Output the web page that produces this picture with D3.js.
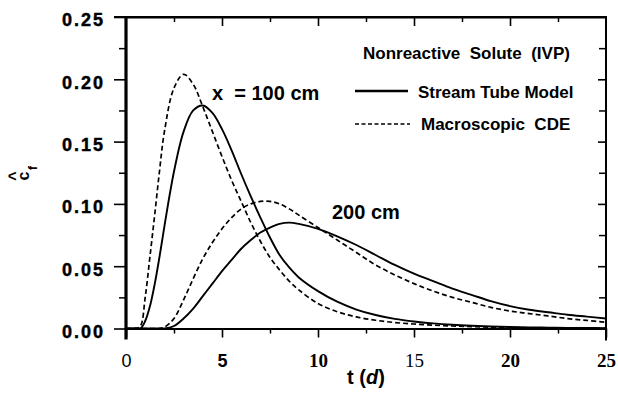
<!DOCTYPE html>
<html>
<head>
<meta charset="utf-8">
<script src="https://cdn.jsdelivr.net/npm/d3@7"></script>
<style>
  html, body { margin: 0; padding: 0; background: #fff; }
  svg { display: block; }
</style>
</head>
<body>
<svg id="chart" width="618" height="402"></svg>
<script>
// ---------------- data ----------------
const tDays = [0, 0.5, 0.75, 1, 1.25, 1.5, 1.75, 2, 2.5, 3, 3.5, 4, 4.5, 5, 5.5, 6, 6.5, 7, 7.5, 8, 8.5, 9,
  10, 11, 12, 13, 14, 15, 16, 17, 18, 19, 20, 21, 22, 23, 24, 25];

// Stream Tube Model, x = 100 cm
const stm100 = [0, 0, 0, 0.006, 0.018, 0.036, 0.058, 0.082, 0.126, 0.158, 0.175, 0.179, 0.173, 0.160, 0.143, 0.124, 0.106, 0.089, 0.073, 0.059, 0.049, 0.041,
  0.030, 0.0215, 0.0152, 0.0108, 0.0077, 0.0056, 0.0041, 0.003, 0.0022, 0.0016, 0.0012, 0.0009, 0.0007, 0.0005, 0.0004, 0.0003];
// Macroscopic CDE, x = 100 cm
const cde100 = [0, 0, 0.002, 0.025, 0.058, 0.092, 0.127, 0.158, 0.193, 0.204, 0.196, 0.178, 0.158, 0.138, 0.119, 0.102, 0.085, 0.070, 0.057, 0.047, 0.038, 0.031,
  0.020, 0.0135, 0.0093, 0.0066, 0.0048, 0.0036, 0.0027, 0.002, 0.0015, 0.0011, 0.0008, 0.0006, 0.0004, 0.0003, 0.0002, 0.0001];
// Stream Tube Model, x = 200 cm
const stm200 = [0, 0, 0, 0, 0, 0, 0, 0, 0.002, 0.008, 0.016, 0.026, 0.036, 0.046, 0.055, 0.064, 0.071, 0.077, 0.081, 0.084, 0.085, 0.084,
  0.080, 0.074, 0.067, 0.059, 0.051, 0.044, 0.038, 0.032, 0.027, 0.022, 0.018, 0.015, 0.013, 0.011, 0.0095, 0.008];
// Macroscopic CDE, x = 200 cm
const cde200 = [0, 0, 0, 0, 0, 0, 0, 0.001, 0.008, 0.023, 0.040, 0.056, 0.069, 0.080, 0.089, 0.096, 0.100, 0.102, 0.102, 0.100, 0.096, 0.091,
  0.081, 0.071, 0.061, 0.051, 0.043, 0.036, 0.030, 0.025, 0.021, 0.017, 0.014, 0.012, 0.010, 0.008, 0.0065, 0.005];

const xMajorTicks = [0, 5, 10, 15, 20, 25];
const xTickLabels = ["0", "5", "10", "15", "20", "25"];
const xMinorTicks = [2.5, 7.5, 12.5, 17.5, 22.5];
const yMajorTicks = [0, 0.05, 0.10, 0.15, 0.20, 0.25];
const yTickLabels = ["0.00", "0.05", "0.10", "0.15", "0.20", "0.25"];
const yMinorTicks = [0.025, 0.075, 0.125, 0.175, 0.225];

const legendTitle = "Nonreactive  Solute  (IVP)";
const legendSolid = "Stream Tube Model";
const legendDashed = "Macroscopic  CDE";
const label100 = "x  = 100 cm";
const label200 = "200 cm";

// ---------------- layout ----------------
const svg = d3.select("#chart");
const L = 126, R = 606, T = 17, B = 328.5;
const x = d3.scaleLinear().domain([0, 25]).range([L, R]);
const y = d3.scaleLinear().domain([0, 0.25]).range([B, T]);

const SANS = "'Liberation Sans', Arial, Helvetica, sans-serif";
const SERIF = "'Liberation Serif', 'Times New Roman', serif";

const xLabelStyle = [
  { f: SANS, w: "normal", s: 18 },
  { f: SANS, w: "bold", s: 18 },
  { f: SERIF, w: "bold", s: 19 },
  { f: SERIF, w: "normal", s: 19 },
  { f: SERIF, w: "bold", s: 19 },
  { f: SERIF, w: "bold", s: 19 }
];

// ---------------- curves ----------------
svg.append("clipPath").attr("id", "plotclip").append("rect")
  .attr("x", L).attr("y", T).attr("width", R - L).attr("height", B - T);

const series = [
  { v: cde100, dash: "5,3", w: 1.7 },
  { v: stm100, dash: null, w: 1.9 },
  { v: cde200, dash: "5,3", w: 1.7 },
  { v: stm200, dash: null, w: 1.9 }
];
const line = d3.line().x(d => x(d[0])).y(d => y(d[1])).curve(d3.curveCatmullRom.alpha(0.5));
svg.append("g").attr("clip-path", "url(#plotclip)")
  .selectAll("path").data(series).join("path")
  .attr("d", s => line(tDays.map((t, i) => [t, s.v[i]])))
  .attr("fill", "none").attr("stroke", "#000")
  .attr("stroke-width", s => s.w)
  .attr("stroke-dasharray", s => s.dash)
  .attr("stroke-linejoin", "round");

// ---------------- axes ----------------
function styleAxis(g, width) {
  g.select(".domain").attr("stroke", "#000").attr("stroke-width", width);
  g.selectAll(".tick line").attr("stroke", "#000").attr("stroke-width", 1.6);
}
function minor(g) {
  g.select(".domain").remove();
  g.selectAll(".tick line").attr("stroke", "#000").attr("stroke-width", 1.5);
}

// bottom
const gxB = svg.append("g").attr("transform", `translate(0,${B})`)
  .call(d3.axisBottom(x).tickValues(xMajorTicks).tickSize(9).tickSizeOuter(0)
    .tickFormat((d, i) => xTickLabels[i]));
styleAxis(gxB, 2);
gxB.selectAll(".tick text")
  .attr("y", 0).attr("dy", 0)
  .attr("transform", "translate(0,38.5)")
  .attr("fill", "#000")
  .style("font-family", (d, i) => xLabelStyle[i].f)
  .style("font-weight", (d, i) => xLabelStyle[i].w)
  .style("font-size", (d, i) => xLabelStyle[i].s + "px");
svg.append("g").attr("transform", `translate(0,${B})`)
  .call(d3.axisBottom(x).tickValues(xMinorTicks).tickSize(5).tickFormat("")).call(minor);

// top (inward ticks)
const gxT = svg.append("g").attr("transform", `translate(0,${T})`)
  .call(d3.axisBottom(x).tickValues(xMajorTicks.slice(1, -1)).tickSize(9).tickSizeOuter(0).tickFormat(""));
styleAxis(gxT, 2);
svg.append("g").attr("transform", `translate(0,${T})`)
  .call(d3.axisBottom(x).tickValues(xMinorTicks).tickSize(5).tickFormat("")).call(minor);

// left (outward ticks)
const gyL = svg.append("g").attr("transform", `translate(${L},0)`)
  .call(d3.axisLeft(y).tickValues(yMajorTicks).tickSize(12).tickSizeOuter(0)
    .tickFormat((d, i) => yTickLabels[i]));
styleAxis(gyL, 3.2);
gyL.select(".domain").attr("d", `M0,${T}V${B + 11}`);
gyL.selectAll(".tick text")
  .attr("x", -21).attr("dy", "0.38em")
  .attr("transform", "translate(0,2)")
  .attr("fill", "#000").attr("stroke", "#000").attr("stroke-width", 0.45)
  .style("font-family", SANS).style("font-weight", "bold")
  .style("font-size", "18px").style("letter-spacing", "2px");
svg.append("g").attr("transform", `translate(${L},0)`)
  .call(d3.axisLeft(y).tickValues(yMinorTicks).tickSize(7).tickFormat("")).call(minor);

// right (inward ticks)
const gyR = svg.append("g").attr("transform", `translate(${R},0)`)
  .call(d3.axisLeft(y).tickValues(yMajorTicks.slice(1, -1)).tickSize(8).tickSizeOuter(0).tickFormat(""));
styleAxis(gyR, 2);
gyR.select(".domain").attr("d", `M0,${T - 1}V${B + 12}`);
svg.append("g").attr("transform", `translate(${R},0)`)
  .call(d3.axisLeft(y).tickValues(yMinorTicks).tickSize(7).tickFormat("")).call(minor);

svg.append("line").attr("x1", L - 12).attr("x2", R).attr("y1", T).attr("y2", T)
  .attr("stroke", "#000").attr("stroke-width", 2);

// ---------------- axis titles ----------------
const xt = svg.append("text").attr("x", 366).attr("y", 384)
  .attr("text-anchor", "middle")
  .style("font-family", SANS).style("font-weight", "bold").style("font-size", "20px")
  .style("white-space", "pre");
xt.append("tspan").text("t (");
xt.append("tspan").style("font-style", "italic").text("d");
xt.append("tspan").text(")");

const yl = svg.append("g").attr("transform", "translate(29,176) rotate(-90)")
  .style("font-family", SANS).style("font-weight", "bold");
yl.append("text").attr("x", 0).attr("y", 0).attr("text-anchor", "middle")
  .style("font-size", "16px").text("c");
yl.append("text").attr("x", 0).attr("y", -9).attr("text-anchor", "middle")
  .style("font-size", "16px").text("^");
yl.append("text").attr("x", 6).attr("y", 8).attr("text-anchor", "start")
  .style("font-size", "12px").text("f");

// ---------------- legend & labels ----------------
const txt = (xp, yp, s, size) => svg.append("text").attr("x", xp).attr("y", yp)
  .style("font-family", SANS).style("font-weight", "bold").style("font-size", size + "px")
  .style("white-space", "pre").text(s);

txt(363, 59, legendTitle, 17);
svg.append("line").attr("x1", 355).attr("x2", 408).attr("y1", 91).attr("y2", 91)
  .attr("stroke", "#000").attr("stroke-width", 2.4);
txt(418, 97.5, legendSolid, 17);
svg.append("line").attr("x1", 355).attr("x2", 410).attr("y1", 124).attr("y2", 124)
  .attr("stroke", "#000").attr("stroke-width", 1.6).attr("stroke-dasharray", "4,2.5");
txt(421, 130, legendDashed, 17);

txt(212, 99.5, label100, 20);
txt(332, 219, label200, 20);
</script>
</body>
</html>
